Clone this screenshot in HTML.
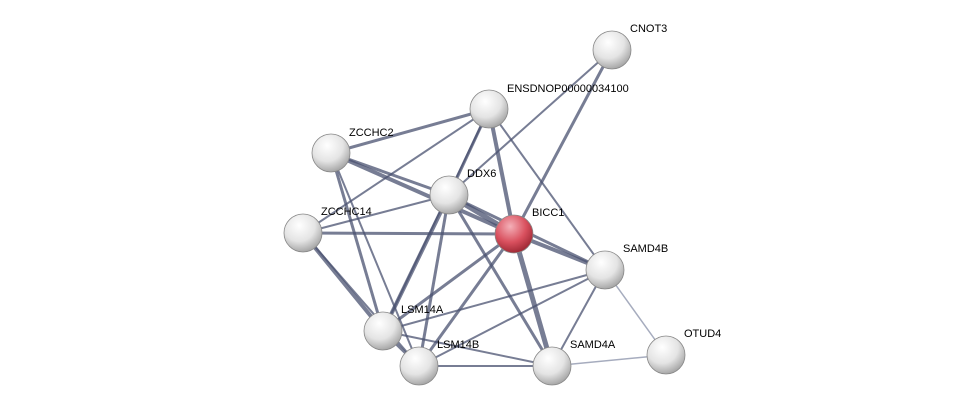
<!DOCTYPE html>
<html><head><meta charset="utf-8"><style>
html,body{margin:0;padding:0;background:#fff;}
svg{display:block;}
text{font-family:"Liberation Sans",sans-serif;font-size:11px;fill:#000;}
</style></head><body>
<svg width="976" height="411" viewBox="0 0 976 411" xmlns="http://www.w3.org/2000/svg">
<defs>
<radialGradient id="g" cx="40%" cy="30%" r="70%">
<stop offset="0" stop-color="#ffffff"/><stop offset="0.6" stop-color="#e4e4e4"/><stop offset="1" stop-color="#a8a8a8"/>
</radialGradient>
<radialGradient id="r" cx="40%" cy="30%" r="70%">
<stop offset="0" stop-color="#f4b0b8"/><stop offset="0.6" stop-color="#d9505e"/><stop offset="1" stop-color="#a02a36"/>
</radialGradient>
</defs>
<g stroke="#4a5270" stroke-opacity="0.75" fill="none">
<line x1="612" y1="50" x2="449" y2="195" stroke-width="2"/>
<line x1="612" y1="50" x2="514" y2="234" stroke-width="3"/>
<line x1="489" y1="109" x2="331" y2="153" stroke-width="3"/>
<line x1="489" y1="109" x2="303" y2="233" stroke-width="2"/>
<line x1="489" y1="109" x2="449" y2="195" stroke-width="3"/>
<line x1="489" y1="109" x2="514" y2="234" stroke-width="4"/>
<line x1="489" y1="109" x2="605" y2="270" stroke-width="2"/>
<line x1="489" y1="109" x2="383" y2="331" stroke-width="2"/>
<line x1="331" y1="153" x2="449" y2="195" stroke-width="3"/>
<line x1="331" y1="153" x2="514" y2="234" stroke-width="4"/>
<line x1="331" y1="153" x2="383" y2="331" stroke-width="3"/>
<line x1="331" y1="153" x2="419" y2="366" stroke-width="2"/>
<line x1="303" y1="233" x2="449" y2="195" stroke-width="2"/>
<line x1="303" y1="233" x2="514" y2="234" stroke-width="3"/>
<line x1="303" y1="233" x2="383" y2="331" stroke-width="4"/>
<line x1="303" y1="233" x2="419" y2="366" stroke-width="2"/>
<line x1="449" y1="195" x2="514" y2="234" stroke-width="5"/>
<line x1="449" y1="195" x2="383" y2="331" stroke-width="4"/>
<line x1="449" y1="195" x2="419" y2="366" stroke-width="3"/>
<line x1="449" y1="195" x2="552" y2="366" stroke-width="3"/>
<line x1="449" y1="195" x2="605" y2="270" stroke-width="3"/>
<line x1="514" y1="234" x2="605" y2="270" stroke-width="4"/>
<line x1="514" y1="234" x2="552" y2="366" stroke-width="5"/>
<line x1="514" y1="234" x2="383" y2="331" stroke-width="3"/>
<line x1="514" y1="234" x2="419" y2="366" stroke-width="3"/>
<line x1="605" y1="270" x2="383" y2="331" stroke-width="2"/>
<line x1="605" y1="270" x2="419" y2="366" stroke-width="2"/>
<line x1="605" y1="270" x2="552" y2="366" stroke-width="2"/>
<line x1="605" y1="270" x2="666" y2="355" stroke-width="1.5" stroke="#8890a8"/>
<line x1="552" y1="366" x2="666" y2="355" stroke-width="1.5" stroke="#8890a8"/>
<line x1="552" y1="366" x2="419" y2="366" stroke-width="2"/>
<line x1="552" y1="366" x2="383" y2="331" stroke-width="2"/>
<line x1="383" y1="331" x2="419" y2="366" stroke-width="3"/>
</g>
<g stroke="#888" stroke-width="0.8">
<circle cx="612" cy="50" r="19" fill="url(#g)"/>
<circle cx="489" cy="109" r="19" fill="url(#g)"/>
<circle cx="331" cy="153" r="19" fill="url(#g)"/>
<circle cx="449" cy="195" r="19" fill="url(#g)"/>
<circle cx="303" cy="233" r="19" fill="url(#g)"/>
<circle cx="514" cy="234" r="19" fill="url(#r)"/>
<circle cx="605" cy="270" r="19" fill="url(#g)"/>
<circle cx="383" cy="331" r="19" fill="url(#g)"/>
<circle cx="419" cy="366" r="19" fill="url(#g)"/>
<circle cx="552" cy="366" r="19" fill="url(#g)"/>
<circle cx="666" cy="355" r="19" fill="url(#g)"/>
</g>
<text x="630" y="32">CNOT3</text>
<text x="507" y="92">ENSDNOP00000034100</text>
<text x="349" y="136">ZCCHC2</text>
<text x="467" y="177">DDX6</text>
<text x="321" y="215">ZCCHC14</text>
<text x="532" y="216">BICC1</text>
<text x="623" y="252">SAMD4B</text>
<text x="401" y="313">LSM14A</text>
<text x="437" y="348">LSM14B</text>
<text x="570" y="348">SAMD4A</text>
<text x="684" y="337">OTUD4</text>
</svg>
</body></html>
